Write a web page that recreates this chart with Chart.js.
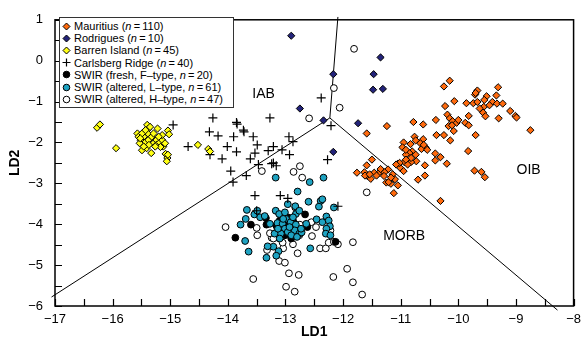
<!DOCTYPE html>
<html>
<head>
<meta charset="utf-8">
<script src="https://cdn.jsdelivr.net/npm/chart.js@4.4.0/dist/chart.umd.min.js"></script>
<style>
  html, body { margin: 0; padding: 0; background: #fff; }
  #wrap { position: relative; width: 587px; height: 344px; }
  #legend {
    position: absolute; left: 59px; top: 17px; width: 175px; height: 91px;
    box-sizing: border-box; border: 1px solid #333; background: #fff;
    font: 11px "Liberation Sans", Arial, sans-serif; color: #000; padding-top: 2px;
  }
  .row { height: 12.2px; display: flex; align-items: center; white-space: nowrap; }
  .row svg { margin: 0 3px 0 2px; flex: none; }
</style>
</head>
<body>
<div id="wrap">
  <canvas id="chart" width="587" height="344"></canvas>
  <div id="legend"></div>
</div>
<script>
// axis ranges / ticks
const xRange = [-17, -8];
const yRange = [-6, 1];

// Mauritius (n = 110)
const mauritius = [
  [-10.15,-0.49],[-10.25,-0.63],[-9.31,-0.65],[-9.67,-0.73],[-9.71,-0.83],[-9.51,-0.87],[-9.55,-0.96],[-10.07,-0.99],
  [-9.86,-1.04],[-9.74,-1.04],[-9.67,-1.01],[-9.41,-1.01],[-9.33,-1.05],[-9.46,-1.09],[-9.56,-1.13],[-10.23,-1.11],
  [-9.10,-1.23],[-9.01,-1.35],[-8.99,-1.39],[-9.57,-1.27],[-9.53,-1.36],[-10.19,-1.32],[-9.82,-1.35],[-9.30,-1.41],
  [-10.39,-1.45],[-10.15,-1.41],[-10.10,-1.48],[-10.03,-1.52],[-9.88,-1.52],[-9.82,-1.58],[-10.17,-1.60],[-10.78,-1.50],
  [-10.61,-1.56],[-8.75,-1.70],[-10.08,-1.72],[-9.70,-1.82],[-10.38,-1.82],[-10.14,-1.95],[-11.24,-1.60],[-11.59,-1.78],
  [-10.76,-1.86],[-10.61,-1.92],[-10.66,-2.02],[-10.95,-2.00],[-10.83,-2.04],[-10.97,-2.12],[-10.57,-2.12],[-10.64,-2.16],
  [-10.80,-2.22],[-10.85,-2.26],[-10.91,-2.30],[-9.83,-2.21],[-10.74,-2.30],[-10.40,-2.27],[-10.31,-2.36],[-10.40,-2.44],
  [-10.20,-2.52],[-10.73,-2.46],[-10.82,-2.48],[-10.94,-2.48],[-11.05,-2.52],[-11.01,-2.62],[-10.88,-2.54],[-10.95,-2.70],
  [-10.58,-2.56],[-10.54,-2.18],[-10.91,-2.18],[-10.82,-2.38],[-11.50,-2.42],[-11.59,-2.56],[-11.22,-2.66],[-11.34,-2.70],
  [-11.39,-2.76],[-11.76,-2.74],[-11.63,-2.73],[-11.58,-2.82],[-11.52,-2.89],[-11.46,-2.74],[-11.28,-2.73],[-11.14,-2.78],
  [-11.10,-2.90],[-11.25,-2.98],[-11.17,-3.01],[-11.05,-3.05],[-11.12,-3.24],[-10.58,-2.81],[-10.70,-2.91],[-9.72,-2.69],
  [-9.60,-2.72],[-9.54,-2.85],[-10.31,-3.43],[-11.62,-2.81],[-11.42,-2.81],[-11.35,-2.65],[-11.21,-2.97],[-11.54,-2.78],
  [-11.02,-2.50],[-11.08,-2.54],[-9.70,-0.79],[-9.34,-0.85],[-10.00,-1.45],[-10.11,-1.58],[-10.74,-1.95],[-10.60,-2.06],
  [-9.23,-1.05],[-9.63,-1.17],[-10.25,-1.82],[-10.91,-2.42],[-11.17,-2.86],[-11.29,-2.82]
];

// Rodrigues (n = 10)
const rodrigues = [
  [-12.90,0.61],[-12.17,-0.33],[-11.35,0.08],[-11.47,-0.33],[-11.48,-0.71],
  [-11.31,-0.69],[-12.75,-1.17],[-12.34,-1.46],[-11.74,-1.53],[-12.17,-2.23]
];

// Barren Island (n = 45)
const barren = [
  [-16.27,-1.64],[-16.22,-1.56],[-15.94,-2.14],[-15.40,-1.57],[-15.57,-1.78],[-15.55,-1.86],[-15.39,-1.68],[-15.39,-1.78],
  [-15.46,-1.86],[-15.51,-1.95],[-15.43,-1.99],[-15.38,-1.94],[-15.32,-1.86],[-15.22,-1.66],[-15.04,-1.71],[-15.02,-1.80],
  [-15.29,-2.02],[-15.24,-1.94],[-15.24,-2.06],[-15.18,-2.00],[-15.14,-1.94],[-15.12,-2.10],[-15.49,-2.19],[-15.41,-2.14],
  [-15.33,-2.26],[-15.08,-2.28],[-15.05,-2.38],[-15.06,-2.46],[-15.53,-2.02],[-15.37,-2.06],[-15.17,-2.11],[-15.49,-1.78],
  [-15.14,-1.82],[-15.29,-1.78],[-15.20,-1.86],[-14.52,-2.06],[-14.34,-2.16],[-14.31,-2.22],[-15.43,-1.70],[-15.26,-2.10],
  [-15.09,-2.02],[-15.46,-2.10],[-15.04,-2.30],[-15.35,-1.62],[-15.52,-1.90]
];

// Carlsberg Ridge (n = 40)
const carlsberg = [
  [-14.95,-1.57],[-14.26,-1.40],[-13.84,-1.55],[-14.32,-1.74],[-14.17,-1.84],[-13.90,-1.86],[-13.72,-1.74],[-13.56,-1.86],
  [-13.27,-1.40],[-14.69,-2.10],[-14.31,-2.30],[-14.01,-2.10],[-13.85,-2.23],[-14.10,-2.40],[-13.53,-2.26],[-13.49,-2.06],
  [-13.21,-2.10],[-13.47,-2.54],[-13.95,-2.70],[-13.91,-2.97],[-13.68,-2.81],[-13.21,-2.50],[-13.53,-3.30],[-12.38,-0.91],
  [-13.85,-1.51],[-13.73,-1.70],[-12.21,-1.59],[-13.61,-2.40],[-13.06,-2.18],[-12.93,-2.30],[-12.94,-1.86],[-12.87,-1.98],
  [-13.24,-2.52],[-13.16,-2.57],[-12.27,-2.42],[-13.09,-3.30],[-12.96,-3.37],[-13.50,-3.67],[-12.09,-3.56],[-13.30,-2.20]
];

// SWIR fresh, F-type (n = 20)
const swirF = [
  [-13.87,-4.33],[-13.60,-4.01],[-13.34,-3.85],[-13.33,-4.01],[-12.66,-3.76],[-12.62,-4.07],[-12.90,-4.09],[-12.13,-4.43],
  [-12.99,-3.95],[-12.93,-4.19],[-13.07,-4.07],[-12.87,-3.91],[-13.01,-4.27],[-12.82,-4.11],[-13.16,-4.03],[-12.96,-3.83],
  [-13.04,-4.15],[-12.84,-3.99],[-12.90,-4.35],[-13.10,-3.91]
];

// SWIR altered, L-type (n = 61)
const swirL = [
  [-12.79,-3.20],[-13.67,-3.65],[-13.54,-3.76],[-13.78,-4.01],[-13.69,-3.87],[-13.44,-3.83],[-13.70,-4.41],[-13.64,-4.67],
  [-13.17,-3.67],[-13.11,-3.75],[-13.14,-3.97],[-12.99,-3.87],[-13.05,-3.99],[-12.91,-3.95],[-13.01,-4.11],[-12.96,-4.19],
  [-13.08,-4.23],[-13.19,-4.23],[-13.10,-4.35],[-12.83,-3.56],[-12.96,-3.51],[-12.82,-3.75],[-12.87,-3.83],[-12.82,-4.01],
  [-12.84,-4.15],[-12.90,-4.27],[-12.76,-4.23],[-12.80,-4.31],[-13.21,-4.55],[-13.31,-4.54],[-13.12,-4.66],[-13.16,-4.77],
  [-13.33,-4.82],[-12.39,-3.43],[-12.36,-3.39],[-12.42,-3.57],[-12.16,-3.59],[-12.46,-3.88],[-12.29,-3.81],[-12.36,-3.95],
  [-12.25,-3.91],[-12.23,-4.05],[-12.29,-4.11],[-12.30,-4.23],[-12.22,-4.27],[-12.57,-4.59],[-13.01,-3.71],[-13.27,-3.99],
  [-12.72,-4.20],[-12.73,-4.11],[-12.93,-4.07],[-13.13,-4.11],[-12.64,-3.99],[-12.76,-3.67],[-13.04,-3.87],[-13.17,-2.86],
  [-12.58,-2.97],[-12.34,-2.86],[-13.49,-3.67],[-13.36,-3.80],[-12.60,-3.45]
];

// SWIR altered, H-type (n = 47)
const swirH = [
  [-14.04,-4.07],[-13.50,-4.09],[-13.49,-4.27],[-13.14,-4.11],[-13.24,-4.33],[-13.13,-4.33],[-12.83,-3.59],[-12.75,-4.01],
  [-12.78,-4.13],[-12.76,-4.27],[-12.54,-4.29],[-12.87,-4.49],[-12.79,-4.71],[-13.32,-4.63],[-13.11,-4.90],[-13.01,-4.94],
  [-12.94,-5.20],[-12.77,-5.24],[-13.56,-5.34],[-12.99,-5.53],[-12.84,-5.65],[-12.17,-5.29],[-11.93,-5.09],[-11.83,-5.42],
  [-11.67,-5.72],[-12.40,-4.59],[-12.30,-4.59],[-12.25,-4.45],[-12.16,-4.43],[-12.09,-4.49],[-11.83,-4.44],[-11.59,-3.22],
  [-12.22,-4.15],[-13.04,-4.59],[-13.21,-4.35],[-11.81,0.29],[-12.16,-0.67],[-12.06,-1.15],[-12.59,-1.41],[-13.41,-2.70],
  [-12.86,-2.72],[-12.75,-2.58],[-12.71,-2.86],[-12.55,-3.95],[-13.27,-4.22],[-12.47,-4.07],[-13.05,-4.45]
];

// discrimination boundaries (triple junction + three arms)
const boundaryTop = [[-12.09, 1.07], [-12.23, -1.40]];
const boundaryLeft = [[-12.23, -1.40], [-17.06, -5.78]];
const boundaryRight = [[-12.23, -1.40], [-8.28, -6.10]];

// field names
const fieldNames = ['IAB', 'OIB', 'MORB'];
const fieldX = [-13.38, -8.78, -10.94];
const fieldY = [-0.81, -2.67, -4.29];

const FONT = '"Liberation Sans", Arial, Helvetica, sans-serif';
const toXY = (arr) => arr.map(([x, y]) => ({ x, y }));
const minus = (v) => String(v).replace('-', '\u2212');

// z: higher = drawn further underneath
const series = [
  { label: 'Mauritius', n: 110, data: mauritius, shape: 'rectRot', fill: '#ff6a0d', r: 3.6, z: 0 },
  { label: 'Rodrigues', n: 10, data: rodrigues, shape: 'rectRot', fill: '#23237a', r: 3.6, z: 0 },
  { label: 'Barren Island', n: 45, data: barren, shape: 'rectRot', fill: '#ffff14', r: 3.6, z: 0 },
  { label: 'Carlsberg Ridge', n: 40, data: carlsberg, shape: 'cross', fill: '#000', r: 4.5, z: 0 },
  { label: 'SWIR (fresh, F\u2013type, ', n: 20, data: swirF, shape: 'circle', fill: '#000', r: 3.4, z: 2 },
  { label: 'SWIR (altered, L\u2013type, ', n: 61, data: swirL, shape: 'circle', fill: '#1ea3c2', r: 3.4, z: 1 },
  { label: 'SWIR (altered, H\u2013type, ', n: 47, data: swirH, shape: 'circle', fill: '#fff', r: 3.4, z: 3 },
];

const lineSet = (pts) => ({
  type: 'line', data: toXY(pts), borderColor: '#000', borderWidth: 1,
  pointRadius: 0, showLine: true, clip: false, fill: false, order: 10,
});

const datasets = series.map((s) => ({
  label: s.label,
  data: toXY(s.data),
  pointStyle: s.shape,
  pointRadius: s.r,
  pointBackgroundColor: s.fill,
  pointBorderColor: '#000',
  pointBorderWidth: s.shape === 'cross' ? 1.2 : 1,
  order: s.z,
}));
datasets.push(lineSet(boundaryTop), lineSet(boundaryLeft), lineSet(boundaryRight));

// inward ticks, frame and field names
const decor = {
  id: 'decor',
  afterDraw(chart) {
    const { ctx, chartArea: a, scales: { x, y } } = chart;
    ctx.save();
    ctx.strokeStyle = '#000';
    ctx.lineWidth = 1.2;
    ctx.beginPath();
    for (let v = xRange[0]; v <= xRange[1]; v += 0.5) {
      const px = Math.round(x.getPixelForValue(v)) + 0.5;
      ctx.moveTo(px, a.bottom); ctx.lineTo(px, a.bottom - 7);
    }
    for (let v = yRange[0]; v <= yRange[1]; v += 0.5) {
      const py = Math.round(y.getPixelForValue(v)) + 0.5;
      ctx.moveTo(a.left, py); ctx.lineTo(a.left + 7, py);
    }
    ctx.stroke();
    ctx.lineWidth = 1.5;
    ctx.strokeRect(a.left, a.top, a.right - a.left, a.bottom - a.top);
    ctx.fillStyle = '#000';
    ctx.font = '14px ' + FONT;
    ctx.textAlign = 'center';
    ctx.textBaseline = 'middle';
    fieldNames.forEach((t, i) => {
      ctx.fillText(t, x.getPixelForValue(fieldX[i]), y.getPixelForValue(fieldY[i]));
    });
    ctx.restore();
  },
};

new Chart(document.getElementById('chart'), {
  type: 'scatter',
  data: { datasets },
  options: {
    responsive: false,
    animation: false,
    layout: { padding: { top: 15, right: 5, left: 0, bottom: 0 } },
    plugins: { legend: { display: false }, tooltip: { enabled: false } },
    scales: {
      x: {
        type: 'linear', min: xRange[0], max: xRange[1],
        border: { display: false }, grid: { display: false, drawTicks: false },
        ticks: { stepSize: 1, color: '#000', padding: 6, font: { family: FONT, size: 13 }, callback: minus },
        title: { display: true, text: 'LD1', color: '#000', font: { family: FONT, size: 14, weight: 'bold' }, padding: { top: 0, bottom: 3 } },
        afterFit: (s) => { s.height = 38; },
      },
      y: {
        type: 'linear', min: yRange[0], max: yRange[1],
        border: { display: false }, grid: { display: false, drawTicks: false },
        ticks: { stepSize: 1, color: '#000', padding: 12, font: { family: FONT, size: 13 }, callback: minus },
        title: { display: true, text: 'LD2', color: '#000', font: { family: FONT, size: 14, weight: 'bold' }, padding: { top: 7, bottom: 0 } },
        afterFit: (s) => { s.width = 55; },
      },
    },
  },
  plugins: [decor],
});

// legend
const legendEl = document.getElementById('legend');
series.forEach((s) => {
  let sym;
  if (s.shape === 'rectRot') {
    sym = `<polygon points="4.5,1 8,4.5 4.5,8 1,4.5" fill="${s.fill}" stroke="#000" stroke-width="1"/>`;
  } else if (s.shape === 'cross') {
    sym = `<path d="M4.5 0.5V8.5M0.5 4.5H8.5" stroke="#000" stroke-width="1.2"/>`;
  } else {
    sym = `<circle cx="4.5" cy="4.5" r="3.3" fill="${s.fill}" stroke="#000" stroke-width="1"/>`;
  }
  const label = s.label.endsWith(', ')
    ? `${s.label}<i>n</i>\u2009=\u2009${s.n})`
    : `${s.label} (<i>n</i>\u2009=\u2009${s.n})`;
  const row = document.createElement('div');
  row.className = 'row';
  row.innerHTML = `<svg width="9" height="9" viewBox="0 0 9 9">${sym}</svg><span>${label}</span>`;
  legendEl.appendChild(row);
});
</script>
</body>
</html>
